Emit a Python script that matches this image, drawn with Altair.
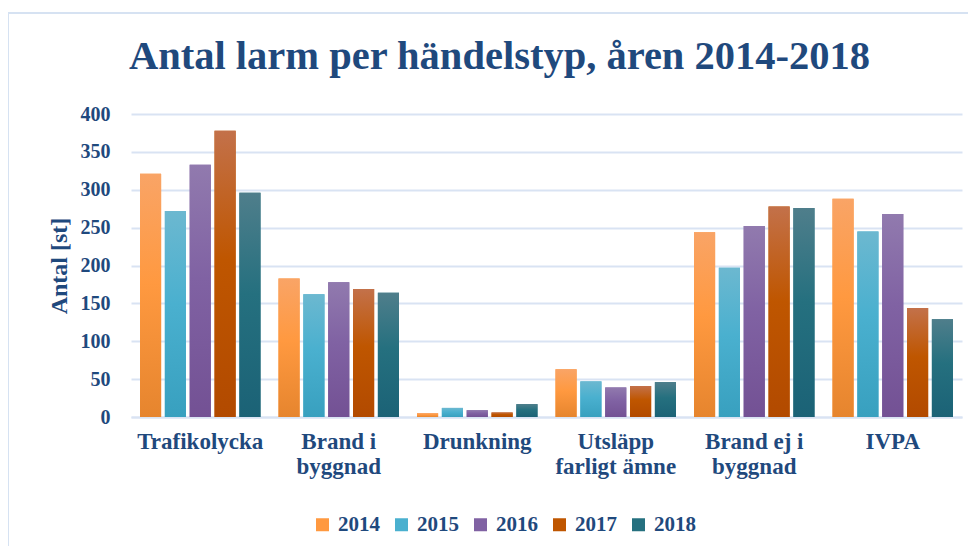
import altair as alt
import pandas as pd

categories = ["Trafikolycka", "Brand i byggnad", "Drunkning",
              "Utsläpp farligt ämne", "Brand ej i byggnad", "IVPA"]
tick_lines = [["Trafikolycka"], ["Brand i", "byggnad"], ["Drunkning"],
              ["Utsläpp", "farligt ämne"], ["Brand ej i", "byggnad"], ["IVPA"]]
years = ["2014", "2015", "2016", "2017", "2018"]

v2014 = [321, 183, 5, 63, 244, 288]
v2015 = [272, 162, 12, 47, 197, 245]
v2016 = [333, 178, 9, 39, 252, 268]
v2017 = [378, 169, 6, 41, 278, 144]
v2018 = [296, 164, 17, 46, 276, 129]

series = {"2014": v2014, "2015": v2015, "2016": v2016, "2017": v2017, "2018": v2018}

# gradient stops (top, middle, bottom) per year
grad = {
    "2014": ["#F9A466", "#FF9940", "#E6852E"],
    "2015": ["#6CB8D0", "#4AB0CF", "#38A0BF"],
    "2016": ["#917AAE", "#8062A3", "#735194"],
    "2017": ["#C3714A", "#BF5600", "#B24A00"],
    "2018": ["#4F7E8B", "#25707F", "#1B6276"],
}
solid = [grad[y][1] for y in years]

rows = []
for y in years:
    for c, v in zip(categories, series[y]):
        rows.append({"category": c, "year": y, "value": v})
df = pd.DataFrame(rows)

TXT = "#1F497D"
FONT = "Liberation Serif"
GRID = "#D9E3F3"

label_expr = " : ".join(
    f"datum.value == '{c}' ? {lines!r}" for c, lines in zip(categories, tick_lines)
) + " : datum.value"

x_enc = alt.X(
    "category:N", sort=categories, title=None,
    scale=alt.Scale(paddingInner=0.13, paddingOuter=0.065),
    axis=alt.Axis(labelAngle=0, labelExpr=label_expr, labelFont=FONT,
                  labelFontSize=23, labelFontWeight="bold", labelColor=TXT,
                  labelLineHeight=25, labelPadding=13, ticks=False,
                  domainColor=GRID, domainWidth=2, labelBaseline="top"),
)
xo_enc = alt.XOffset("year:N", scale=alt.Scale(domain=years, paddingInner=0.15))
y_enc = alt.Y(
    "value:Q", title="Antal [st]",
    scale=alt.Scale(domain=[0, 400]),
    axis=alt.Axis(values=list(range(0, 401, 50)), grid=True, gridColor=GRID,
                  gridWidth=2, domain=False, ticks=False, labelFont=FONT,
                  labelFontSize=20, labelFontWeight="bold", labelColor=TXT,
                  labelPadding=21, titleFont=FONT, titleFontSize=24,
                  titleFontWeight="bold", titleColor=TXT, titlePadding=9),
)

base = alt.Chart(df)

legend_layer = base.mark_bar().encode(
    x=x_enc, xOffset=xo_enc, y=y_enc,
    color=alt.Color("year:N", scale=alt.Scale(domain=years, range=solid),
                    legend=alt.Legend(title=None, orient="none", legendX=181,
                                      legendY=400, direction="horizontal",
                                      symbolType="square", symbolSize=169,
                                      symbolStrokeWidth=0, labelFont=FONT,
                                      labelFontSize=21, labelFontWeight="bold",
                                      labelColor=TXT, columnPadding=11,
                                      labelOffset=5)),
)

layers = [legend_layer]
for y in years:
    g = grad[y]
    gradient = alt.Gradient(
        gradient="linear",
        stops=[alt.GradientStop(color=g[0], offset=0),
               alt.GradientStop(color=g[1], offset=0.45),
               alt.GradientStop(color=g[2], offset=1)],
        x1=0, x2=0, y1=0, y2=1,
    )
    layers.append(
        base.transform_filter(alt.datum.year == y)
        .mark_bar(color=gradient)
        .encode(x=x_enc, xOffset=xo_enc, y=y_enc)
    )

frame_df = pd.DataFrame({"k": [0]})
frame_v = alt.Chart(frame_df).mark_rule(color="#D6E2F2", strokeWidth=2).encode(
    x=alt.value(-123), y=alt.value(-101), y2=alt.value(440))
frame_h = alt.Chart(frame_df).mark_rule(color="#D6E2F2", strokeWidth=2).encode(
    x=alt.value(-123), x2=alt.value(850), y=alt.value(-101))

chart = alt.layer(*layers, frame_v, frame_h).properties(
    width=831, height=303,
    autosize=alt.AutoSizeParams(type="none"),
    padding={"left": 123, "top": 106, "right": 6, "bottom": 129},
    title=alt.Title("Antal larm per händelstyp, åren 2014-2018", font=FONT,
                    fontSize=40.5, fontWeight="bold", color=TXT, anchor="middle",
                    baseline="alphabetic", dx=-47, dy=97, offset=0),
).configure_view(stroke=None)

chart.save("out.html", embed_options={"renderer": "svg", "actions": False})
